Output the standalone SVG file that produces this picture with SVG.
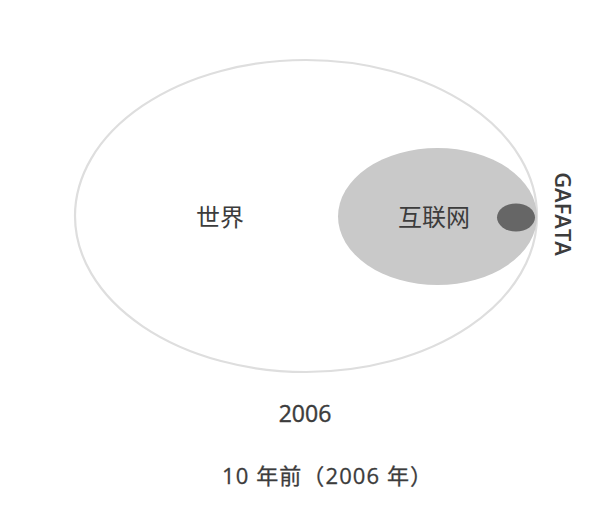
<svg xmlns="http://www.w3.org/2000/svg" width="611" height="526" viewBox="0 0 611 526">
<style>
.t{font-family:"Open Sans","Noto Sans CJK SC",sans-serif;fill:#3c3c3c;}
.cjk{font-family:"Noto Sans CJK SC",sans-serif;fill:#3c3c3c;}
</style>
<rect width="611" height="526" fill="#fff"/>
<g id="world">
<ellipse cx="306" cy="216" rx="231" ry="156" fill="#fff" stroke="#dedede" stroke-width="2.2"/>
<text class="cjk" x="220" y="226" font-size="24" text-anchor="middle">世界</text>
</g>
<g id="internet">
<ellipse cx="437.5" cy="216.5" rx="99.5" ry="68.5" fill="#c9c9c9"/>
<text class="cjk" x="434" y="226" font-size="24" text-anchor="middle">互联网</text>
</g>
<g id="gafata">
<ellipse cx="516" cy="217.5" rx="19" ry="14" fill="#666"/>
<text class="t" transform="translate(555,214) rotate(90)" font-size="22" font-weight="600" text-anchor="middle">GAFATA</text>
</g>
<g id="connectors"></g>
<text class="t" x="305" y="422" font-size="23" stroke="#3c3c3c" stroke-width="0.4" text-anchor="middle">2006</text>
<text class="t" x="222" y="484" font-size="22" letter-spacing="1.1" stroke="#3c3c3c" stroke-width="0.3">10 年前（2006 年）</text>
</svg>
